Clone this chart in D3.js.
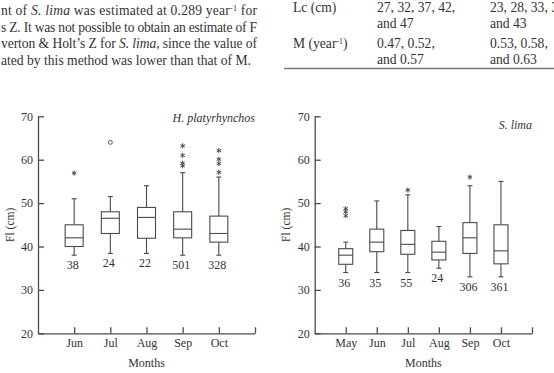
<!DOCTYPE html>
<html>
<head>
<meta charset="utf-8">
<script src="https://cdn.jsdelivr.net/npm/d3@7"></script>
<style>
  body { margin: 0; background: #fff; }
  svg { display: block; font-family: "Liberation Serif", "DejaVu Serif", serif; }
</style>
</head>
<body>
<div id="chart"></div>
<script>
// H. platyrhynchos
const hMonths = ["Jun", "Jul", "Aug", "Sep", "Oct"];
const hLow = [38, 38.4, 38.4, 38, 38];
const hQ1 = [40, 43, 41.9, 42, 41];
const hMed = [42, 46.5, 46.7, 44, 43];
const hQ3 = [45, 48, 49, 48, 47];
const hHigh = [51, 51.5, 54, 57, 56];
const hN = ["38", "24", "22", "501", "328"];
const hStars = [[56.9], [], [], [63.2, 61, 59.2, 58.6], [62.1, 60.1, 59.1, 57.1]];
const hCircles = [[], [64], [], [], []];

// S. lima
const sMonths = ["May", "Jun", "Jul", "Aug", "Sep", "Oct"];
const sLow = [34, 34, 34, 35, 33, 33];
const sQ1 = [35.9, 38.8, 38.2, 36.9, 38.4, 36];
const sMed = [38, 41, 40.5, 38.7, 42, 39];
const sQ3 = [39.5, 44, 43.7, 41.2, 45.5, 45];
const sHigh = [41, 50.5, 51.9, 44.6, 54, 55];
const sN = ["36", "35", "55", "24", "306", "361"];
const sStars = [[48.7, 48, 47.1], [], [53], [], [56], []];
const sCircles = [[], [], [], [], [], []];

const yTicks = [20, 30, 40, 50, 60, 70];

const width = 554, height = 373;
const ink = "#4a4a4a";
const textInk = "#333";

const svg = d3.select("#chart").append("svg")
  .attr("width", width)
  .attr("height", height);

// text above the charts (cropped page)
const para = [
  { parts: [["nt of ", false], ["S. lima", true], [" was estimated at 0.289 year", false], ["-1", "sup"], [" for", false]], just: true },
  { parts: [["s Z. It was not possible to obtain an estimate of F", false]], just: true },
  { parts: [["verton & Holt\u2019s Z for ", false], ["S. lima", true], [", since the value of", false]], just: true },
  { parts: [["ated by this method was lower than that of M.", false]], just: false }
];
const paraY = [15, 31.5, 48, 64.5];

para.forEach((line, i) => {
  const t = svg.append("text")
    .attr("x", 1)
    .attr("y", paraY[i])
    .style("font-size", "13.6px")
    .style("fill", textInk);
  if (line.just) t.attr("textLength", 256).attr("lengthAdjust", "spacing");
  line.parts.forEach(([s, f]) => {
    const ts = t.append("tspan").text(s);
    if (f === true) ts.style("font-style", "italic");
    if (f === "sup") ts.attr("baseline-shift", "super").style("font-size", "8px");
  });
});

// table fragment
const tableRows = [
  [["Lc (cm)"], "27, 32, 37, 42,", "23, 28, 33, 38,"],
  [[""], "and 47", "and 43"],
  [["M (year", "-1", ")"], "0.47, 0.52,", "0.53, 0.58,"],
  [[""], "and 0.57", "and 0.63"]
];
const tableY = [12, 28, 48, 63.5];
tableRows.forEach((r, i) => {
  const c0 = svg.append("text").attr("x", 293).attr("y", tableY[i])
    .style("font-size", "13.6px").style("fill", textInk);
  r[0].forEach((s, k) => {
    const ts = c0.append("tspan").text(s);
    if (k === 1) ts.attr("baseline-shift", "super").style("font-size", "8px");
  });
  svg.append("text").attr("x", 377).attr("y", tableY[i])
    .style("font-size", "13.6px").style("fill", textInk).text(r[1]);
  svg.append("text").attr("x", 490).attr("y", tableY[i])
    .style("font-size", "13.6px").style("fill", textInk).text(r[2]);
});
svg.append("line")
  .attr("x1", 284).attr("x2", 554)
  .attr("y1", 68.5).attr("y2", 68.5)
  .attr("stroke", "#777").attr("stroke-width", 1.6);

function boxChart(opt) {
  const g = svg.append("g");
  const n = opt.months.length;
  const x = d3.scaleLinear().domain([0, n + 1]).range([opt.x0, opt.x1]);
  const y = d3.scaleLinear().domain([20, 70]).range([333.3, 116.3]);

  const yAxis = g.append("g")
    .attr("transform", `translate(${opt.x0},0)`)
    .call(d3.axisLeft(y).tickValues(yTicks).tickSizeInner(-6).tickSizeOuter(0).tickPadding(5));
  const xAxis = g.append("g")
    .attr("transform", `translate(0,${y(20)})`)
    .call(d3.axisBottom(x).tickValues(d3.range(1, n + 2))
      .tickFormat(d => d <= n ? opt.months[d - 1] : "")
      .tickSizeInner(-6).tickSizeOuter(0).tickPadding(5));
  [yAxis, xAxis].forEach(a => {
    a.selectAll("path, line").attr("stroke", ink).attr("stroke-width", 1.3);
    a.selectAll("text").style("font-size", "12px").style("fill", textInk)
      .style("font-family", "Liberation Serif, serif");
  });

  g.append("text")
    .attr("transform", `translate(${opt.x0 - 28.5},${(y(20) + y(70)) / 2}) rotate(-90)`)
    .attr("text-anchor", "middle")
    .attr("dy", "0.35em")
    .style("font-size", "11.5px").style("fill", textInk)
    .text("Fl (cm)");
  g.append("text")
    .attr("x", (opt.x0 + opt.x1) / 2)
    .attr("y", 367)
    .attr("text-anchor", "middle")
    .style("font-size", "12px").style("fill", textInk)
    .text("Months");
  g.append("text")
    .attr("x", opt.x1)
    .attr("y", opt.titleY)
    .attr("text-anchor", "end")
    .style("font-size", "12px").style("font-style", "italic").style("fill", textInk)
    .text(opt.title);

  const bw = opt.boxW, cw = 2.5;
  opt.months.forEach((m, i) => {
    const cx = x(i + 1);
    const box = g.append("g").attr("stroke", ink).attr("stroke-width", 1.1).attr("fill", "none");
    box.append("line").attr("x1", cx).attr("x2", cx).attr("y1", y(opt.q3[i])).attr("y2", y(opt.high[i]));
    box.append("line").attr("x1", cx).attr("x2", cx).attr("y1", y(opt.q1[i])).attr("y2", y(opt.low[i]));
    box.append("line").attr("x1", cx - cw).attr("x2", cx + cw).attr("y1", y(opt.high[i])).attr("y2", y(opt.high[i]));
    box.append("line").attr("x1", cx - cw).attr("x2", cx + cw).attr("y1", y(opt.low[i])).attr("y2", y(opt.low[i]));
    box.append("rect")
      .attr("x", cx - bw / 2).attr("width", bw)
      .attr("y", y(opt.q3[i])).attr("height", y(opt.q1[i]) - y(opt.q3[i]))
      .attr("fill", "#fff");
    box.append("line").attr("x1", cx - bw / 2).attr("x2", cx + bw / 2)
      .attr("y1", y(opt.med[i])).attr("y2", y(opt.med[i]));

    opt.stars[i].forEach(v => {
      g.append("path")
        .attr("d", d3.symbol(d3.symbolAsterisk, 18)())
        .attr("transform", `translate(${cx},${y(v)})`)
        .attr("stroke", ink).attr("stroke-width", 1).attr("fill", "none");
    });
    opt.circles[i].forEach(v => {
      g.append("circle").attr("cx", cx).attr("cy", y(v)).attr("r", 2)
        .attr("stroke", ink).attr("stroke-width", 0.9).attr("fill", "none");
    });

    g.append("text")
      .attr("x", cx - 1.5)
      .attr("y", y(opt.low[i]) + 14)
      .attr("text-anchor", "middle")
      .style("font-size", "12px").style("fill", textInk)
      .text(opt.n[i]);
  });
}

boxChart({
  months: hMonths, low: hLow, q1: hQ1, med: hMed, q3: hQ3, high: hHigh,
  n: hN, stars: hStars, circles: hCircles,
  x0: 38, x1: 255, boxW: 18, title: "H. platyrhynchos", titleY: 122
});
boxChart({
  months: sMonths, low: sLow, q1: sQ1, med: sMed, q3: sQ3, high: sHigh,
  n: sN, stars: sStars, circles: sCircles,
  x0: 314.7, x1: 532, boxW: 14, title: "S. lima", titleY: 128.5
});
</script>
</body>
</html>
